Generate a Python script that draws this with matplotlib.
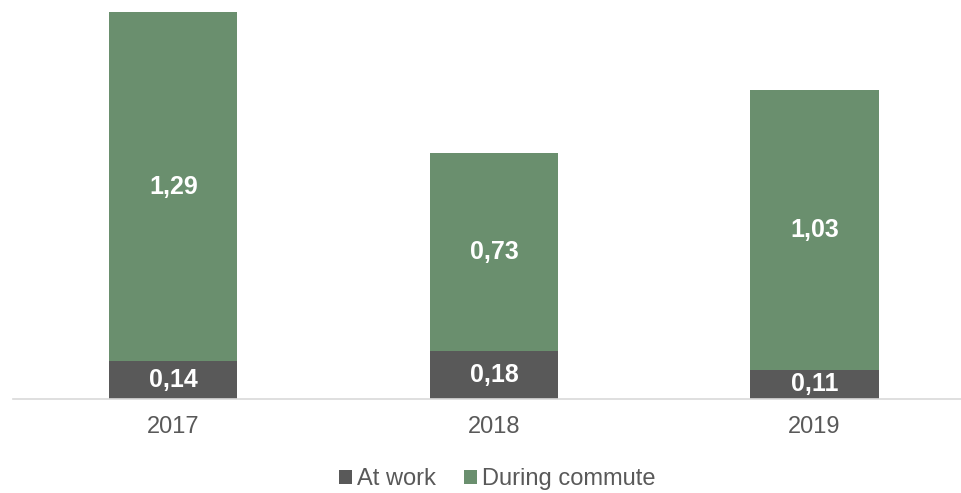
import numpy as np
import matplotlib.pyplot as plt

plt.rcParams['font.family'] = ['Liberation Sans', 'DejaVu Sans']

years = ['2017', '2018', '2019']
at_work = [0.14, 0.18, 0.11]
during_commute = [1.29, 0.73, 1.03]

work_color = '#595959'
commute_color = '#6a8f6e'

fig = plt.figure(figsize=(9.61, 4.93), dpi=100)
ax = fig.add_axes([13 / 961, 0.19, 1 - 13 / 961, 0.81])

x = np.arange(len(years))
width = 0.4

b1 = ax.bar(x, at_work, width, color=work_color, label='At work')
b2 = ax.bar(x, during_commute, width, bottom=at_work, color=commute_color, label='During commute')

for xi, w, c in zip(x, at_work, during_commute):
    ax.text(xi, w / 2, f'{w:.2f}'.replace('.', ','), ha='center', va='center',
            color='white', fontweight='bold', fontsize=18)
    ax.text(xi, w + c / 2, f'{c:.2f}'.replace('.', ','), ha='center', va='center',
            color='white', fontweight='bold', fontsize=18)

ax.set_xlim(-0.5, 2.457)
ax.set_ylim(0, 1.474)
ax.set_xticks(x)
ax.set_xticklabels(years, fontsize=17, color='#595959')
ax.tick_params(axis='x', length=0, pad=12)
ax.set_yticks([])
for side in ['top', 'right', 'left']:
    ax.spines[side].set_visible(False)
ax.spines['bottom'].set_color('#d9d9d9')
ax.spines['bottom'].set_linewidth(1.2)

fig.legend(handles=[b1, b2], loc='center', bbox_to_anchor=(497 / 961, 1 - 479 / 493),
           ncol=2, frameon=False, fontsize=17, handlelength=0.55, handleheight=0.55,
           handletextpad=0.2, columnspacing=1.2, labelcolor='#595959')

fig.savefig('out.png', dpi=100)
